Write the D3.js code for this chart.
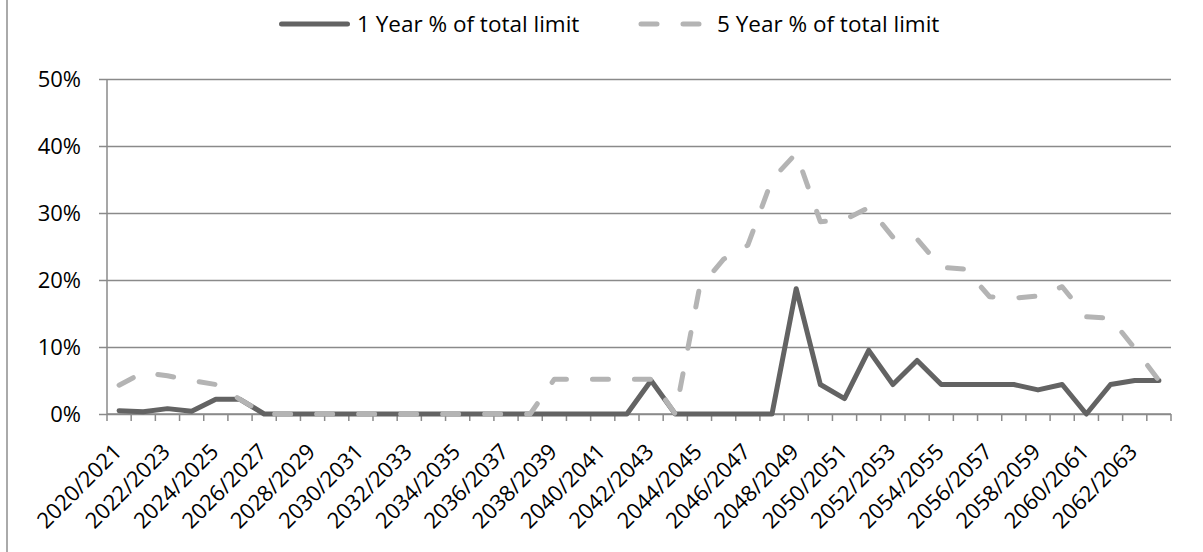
<!DOCTYPE html>
<html>
<head>
<meta charset="utf-8">
<script src="https://cdn.jsdelivr.net/npm/d3@7"></script>
<style>
  html, body { margin: 0; padding: 0; background: #fff; }
  svg { display: block; font-family: "Open Sans", "Liberation Sans", sans-serif; }
</style>
</head>
<body>
<svg id="chart" width="1203" height="552"></svg>
<script>
// Financial years on the category axis
const categories = [
  "2020/2021", "2021/2022", "2022/2023", "2023/2024", "2024/2025", "2025/2026",
  "2026/2027", "2027/2028", "2028/2029", "2029/2030", "2030/2031", "2031/2032",
  "2032/2033", "2033/2034", "2034/2035", "2035/2036", "2036/2037", "2037/2038",
  "2038/2039", "2039/2040", "2040/2041", "2041/2042", "2042/2043", "2043/2044",
  "2044/2045", "2045/2046", "2046/2047", "2047/2048", "2048/2049", "2049/2050",
  "2050/2051", "2051/2052", "2052/2053", "2053/2054", "2054/2055", "2055/2056",
  "2056/2057", "2057/2058", "2058/2059", "2059/2060", "2060/2061", "2061/2062",
  "2062/2063", "2063/2064"
];

// Share of the total limit, in percent
const oneYear = [
  0.5, 0.35, 0.8, 0.4, 2.2, 2.2,
  0, 0, 0, 0, 0, 0, 0, 0, 0, 0, 0, 0, 0, 0, 0, 0,
  5.0,
  0, 0, 0, 0, 0,
  18.7, 4.4, 2.3, 9.5, 4.4, 8.0, 4.4, 4.4, 4.4, 4.4, 3.6, 4.4, 0, 4.4, 5.0, 5.0
];
const fiveYear = [
  4.3, 6.2, 5.7, 5.0, 4.4, 2.2,
  0, 0, 0, 0, 0, 0, 0, 0, 0, 0, 0, 0,
  5.2, 5.2, 5.2, 5.2, 5.2,
  0,
  18.8, 23.1, 25.2, 35.0, 38.9, 28.7, 29.0, 30.8, 26.4, 26.1, 21.9, 21.6,
  17.5, 17.3, 17.6, 19.0, 14.5, 14.3, 9.8, 5.0
];

const seriesNames = ["1 Year % of total limit", "5 Year % of total limit"];
const yTicks = [0, 10, 20, 30, 40, 50];

const svg = d3.select("#chart");
const margin = { left: 107, right: 1171, top: 79, bottom: 414 };
const axisGray = "#8a8a8a";
const darkColor = "#636363";
const lightColor = "#b4b4b4";

// outer frame edge on the left
svg.append("line")
  .attr("x1", 7).attr("x2", 7).attr("y1", 0).attr("y2", 552)
  .attr("stroke", "#8e8e8e").attr("stroke-width", 1.5);

const x = d3.scaleBand().domain(categories).range([margin.left, margin.right]).padding(0);
const y = d3.scaleLinear().domain([0, 50]).range([margin.bottom, margin.top]);
const cx = d => x(d) + x.bandwidth() / 2;

// horizontal gridlines with outward ticks
const gY = svg.append("g").attr("transform", `translate(${margin.left},0)`)
  .call(d3.axisLeft(y).tickValues(yTicks).tickFormat(d => d + "%")
    .tickSize(-(margin.right - margin.left)).tickPadding(26));
gY.select(".domain").remove();
gY.selectAll(".tick line")
  .attr("x1", -8)
  .attr("stroke", axisGray).attr("stroke-width", 1.5);
gY.selectAll(".tick text")
  .attr("font-size", 22).attr("fill", "#000")
  .attr("font-family", "'Open Sans', sans-serif");

// vertical axis line
svg.append("line")
  .attr("x1", margin.left).attr("x2", margin.left)
  .attr("y1", margin.top).attr("y2", margin.bottom)
  .attr("stroke", axisGray).attr("stroke-width", 1.5);

// category axis: ticks on band boundaries
const boundaries = categories.map(c => x(c)).concat([margin.right]);
svg.append("g").selectAll("line").data(boundaries).join("line")
  .attr("x1", d => d).attr("x2", d => d)
  .attr("y1", margin.bottom).attr("y2", margin.bottom + 7)
  .attr("stroke", axisGray).attr("stroke-width", 1.5);
svg.append("line")
  .attr("x1", margin.left).attr("x2", margin.right)
  .attr("y1", margin.bottom).attr("y2", margin.bottom)
  .attr("stroke", axisGray).attr("stroke-width", 1.5);

// rotated labels on every other category
svg.append("g").selectAll("text")
  .data(categories.filter((c, i) => i % 2 === 0)).join("text")
  .attr("transform", d => `translate(${cx(d) + 4},${margin.bottom + 39}) rotate(-45)`)
  .attr("text-anchor", "end")
  .attr("font-size", 22).attr("fill", "#000")
  .text(d => d);

// series lines
const line = d3.line().x((d, i) => cx(categories[i])).y(d => y(d));

svg.append("path").datum(oneYear)
  .attr("d", line).attr("fill", "none")
  .attr("stroke", darkColor).attr("stroke-width", 5)
  .attr("stroke-linejoin", "round").attr("stroke-linecap", "round");

svg.append("path").datum(fiveYear)
  .attr("d", line).attr("fill", "none")
  .attr("stroke", lightColor).attr("stroke-width", 5)
  .attr("stroke-dasharray", "16,26")
  .attr("stroke-linejoin", "round").attr("stroke-linecap", "round");

// legend
const legend = svg.append("g");
legend.append("line")
  .attr("x1", 281.5).attr("x2", 347.5).attr("y1", 24).attr("y2", 24)
  .attr("stroke", darkColor).attr("stroke-width", 5).attr("stroke-linecap", "round");
legend.append("text")
  .attr("x", 357).attr("y", 32).attr("font-size", 22.5).attr("fill", "#000")
  .text(seriesNames[0]);
legend.append("line")
  .attr("x1", 641).attr("x2", 700).attr("y1", 24).attr("y2", 24)
  .attr("stroke", lightColor).attr("stroke-width", 5)
  .attr("stroke-dasharray", "16,26").attr("stroke-linecap", "round");
legend.append("text")
  .attr("x", 717).attr("y", 32).attr("font-size", 22.5).attr("fill", "#000")
  .text(seriesNames[1]);
</script>
</body>
</html>
